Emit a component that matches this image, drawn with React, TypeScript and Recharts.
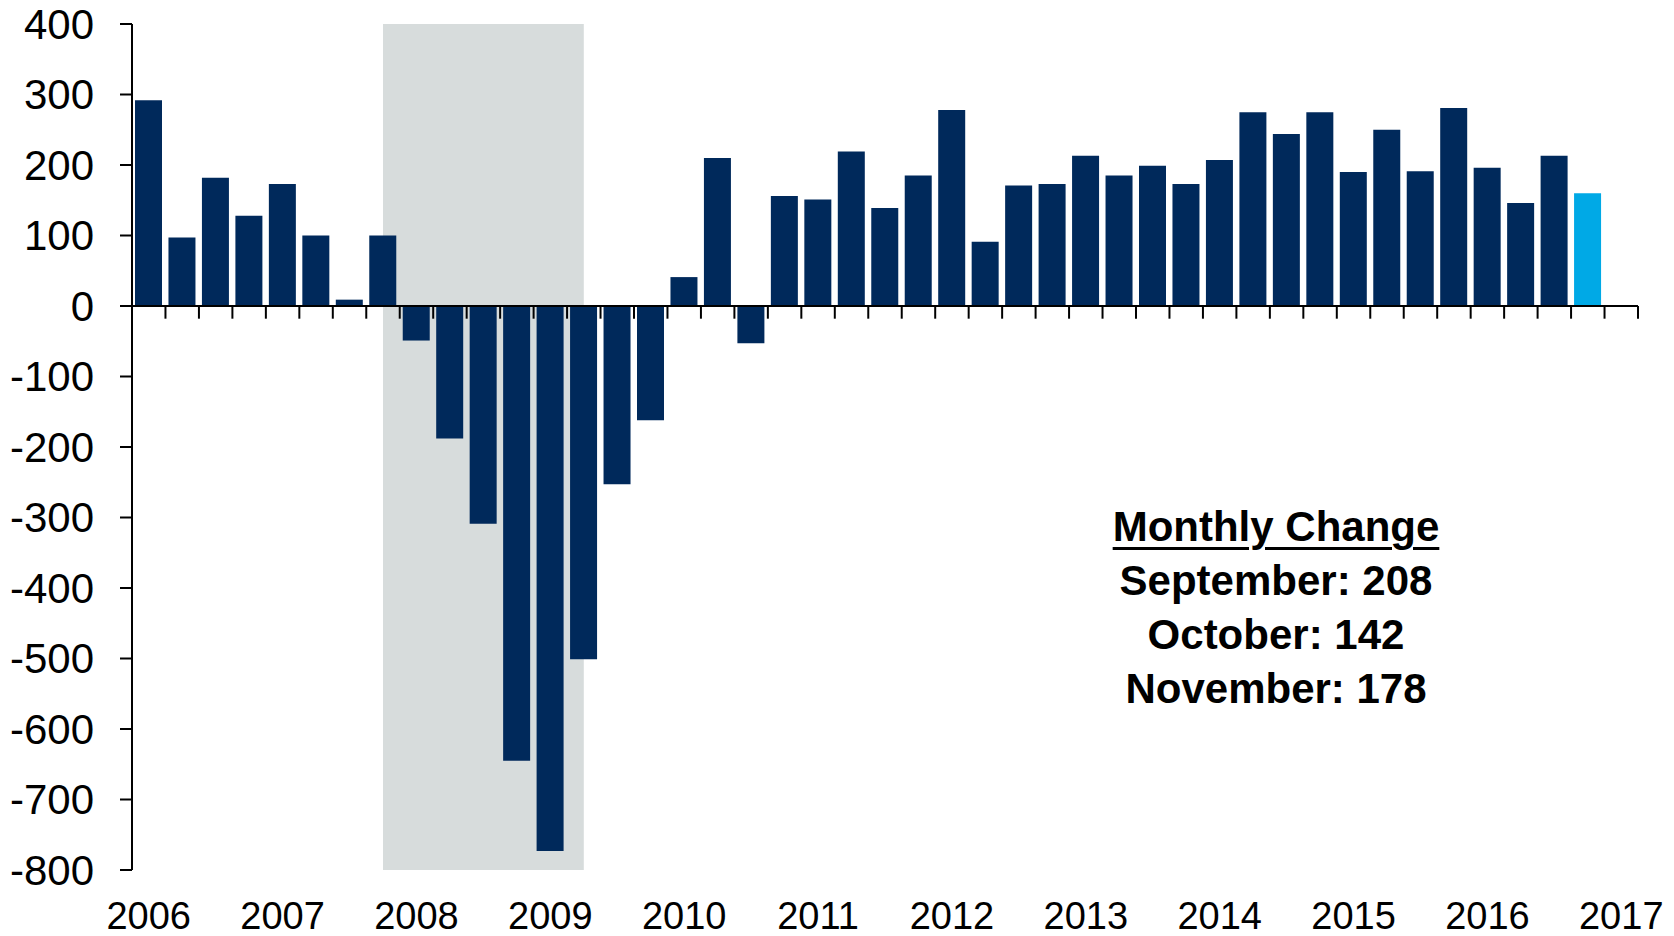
import { Bar, BarChart, Cell, ReferenceArea, ReferenceLine, XAxis, YAxis } from "recharts";

// quarterly averages of monthly payroll change, thousands (2006 Q1 .. 2016 Q4)
const changes = [
	292, 97, 182, 128, 173, 100, 9, 100, -49, -188, -309, -645, -773, -501, -253, -162, 41, 210, -53, 156, 151,
	219, 139, 185, 278, 91, 171, 173, 213, 185, 199, 173, 207, 275, 244, 275, 190, 250, 191, 281, 196, 146, 213,
	160,
];
const yearLabels = ["2006", "2007", "2008", "2009", "2010", "2011", "2012", "2013", "2014", "2015", "2016", "2017"];
const yTicks = [400, 300, 200, 100, 0, -100, -200, -300, -400, -500, -600, -700, -800];
const recession = { from: 7.5, to: 13.5 }; // in quarter slots
const monthly = [
	{ month: "September", value: 208 },
	{ month: "October", value: 142 },
	{ month: "November", value: 178 },
];

const slots = yearLabels.length * 4 - 3; // 45 quarter slots on the axis
const data = changes.map((value, i) => ({ x: i + 0.5, value }));
const yearTicks = yearLabels.map((_, i) => i * 4 + 0.5);
const slotEdges = Array.from({ length: slots }, (_, i) => i + 1);

const NAVY = "#00295b";
const LIGHT = "#00a9e6";

export default function App() {
	return (
		<div
			style={{
				position: "absolute",
				left: 0,
				top: 0,
				width: 1674,
				height: 936,
				background: "#fff",
				fontFamily: "'Liberation Sans', Arial, sans-serif",
			}}
		>
			<BarChart width={1674} height={936} data={data} margin={{ top: 24, right: 36, left: 0, bottom: 0 }}>
				<ReferenceArea
					x1={recession.from}
					x2={recession.to}
					y1={-800}
					y2={400}
					fill="#d7dcdc"
					fillOpacity={1}
					stroke="none"
				/>
				<XAxis
					type="number"
					dataKey="x"
					domain={[0, slots]}
					ticks={yearTicks}
					interval={0}
					tickFormatter={(v: number) => yearLabels[Math.round((v - 0.5) / 4)]}
					axisLine={false}
					tickLine={false}
					tickSize={0}
					tickMargin={32}
					height={66}
					tick={{ fill: "#000", fontSize: 38 }}
				/>
				<YAxis
					domain={[-800, 400]}
					ticks={yTicks}
					interval={0}
					width={132}
					axisLine={{ stroke: "#000", strokeWidth: 2 }}
					tickLine={{ stroke: "#000", strokeWidth: 2 }}
					tickSize={12}
					tickMargin={26}
					tick={{ fill: "#000", fontSize: 42 }}
				/>
				<Bar dataKey="value" barSize={27} isAnimationActive={false}>
					{data.map((d, i) => (
						<Cell key={d.x} fill={i === data.length - 1 ? LIGHT : NAVY} />
					))}
				</Bar>
				<ReferenceLine y={0} stroke="#000" strokeWidth={2} />
				{slotEdges.map((e) => (
					<ReferenceLine
						key={e}
						segment={[
							{ x: e, y: 0 },
							{ x: e, y: -18 },
						]}
						stroke="#000"
						strokeWidth={2}
						ifOverflow="visible"
					/>
				))}
			</BarChart>
			<div
				style={{
					position: "absolute",
					left: 1076,
					top: 500,
					width: 400,
					textAlign: "center",
					fontWeight: "bold",
					fontSize: 42,
					lineHeight: "54px",
					color: "#000",
				}}
			>
				<div style={{ textDecoration: "underline", textDecorationThickness: 3, textUnderlineOffset: 6 }}>
					Monthly Change
				</div>
				{monthly.map((m) => (
					<div key={m.month}>
						{m.month}: {m.value}
					</div>
				))}
			</div>
		</div>
	);
}
